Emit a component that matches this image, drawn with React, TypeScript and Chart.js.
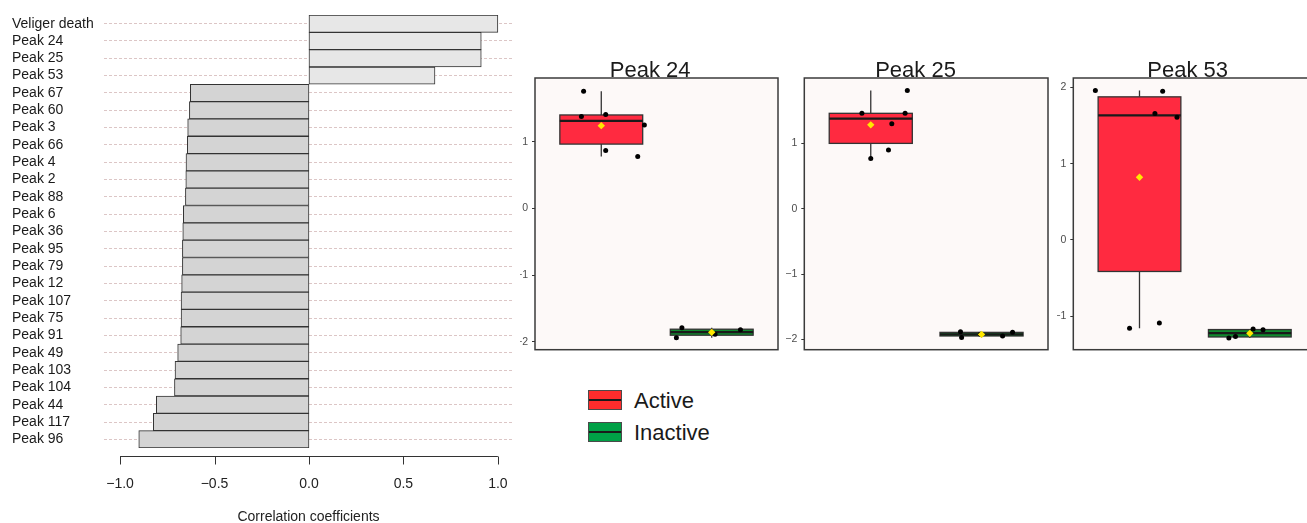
import React, { useEffect, useRef } from 'react';
import { Chart, registerables } from 'chart.js';

Chart.register(...registerables);

const FONT = "'Liberation Sans', Arial, Helvetica, sans-serif";
Chart.defaults.font.family = FONT;

// ---- Correlation with veliger death (top row first) ----
const CORR_LABELS = [
  'Veliger death', 'Peak 24', 'Peak 25', 'Peak 53', 'Peak 67', 'Peak 60', 'Peak 3',
  'Peak 66', 'Peak 4', 'Peak 2', 'Peak 88', 'Peak 6', 'Peak 36', 'Peak 95', 'Peak 79',
  'Peak 12', 'Peak 107', 'Peak 75', 'Peak 91', 'Peak 49', 'Peak 103', 'Peak 104',
  'Peak 44', 'Peak 117', 'Peak 96',
];
const CORR_VALUES = [
  1.0, 0.912, 0.912, 0.667, -0.628, -0.633, -0.642,
  -0.644, -0.651, -0.652, -0.654, -0.665, -0.668, -0.670, -0.670,
  -0.674, -0.677, -0.677, -0.679, -0.695, -0.709, -0.712,
  -0.808, -0.824, -0.901,
];
const CORR_TICKS = [-1, -0.5, 0, 0.5, 1];

// ---- Scaled peak intensity by activity group ----
const GROUPS = ['Active', 'Inactive'];

const PEAK24_ACTIVE = [1.76, 1.38, 1.41, 1.25, 0.87, 0.78];
const PEAK24_ACTIVE_JITTER = [-0.16, -0.18, 0.04, 0.39, 0.04, 0.33];
const PEAK24_INACTIVE = [-1.94, -1.79, -1.89, -1.82];
const PEAK24_INACTIVE_JITTER = [-0.32, -0.27, 0.03, 0.26];
const PEAK24_TICKS = [-2, -1, 0, 1];

const PEAK25_ACTIVE = [1.46, 0.77, 0.9, 1.3, 1.46, 1.81];
const PEAK25_ACTIVE_JITTER = [-0.08, 0.0, 0.16, 0.19, 0.31, 0.33];
const PEAK25_INACTIVE = [-1.88, -1.97, -1.92, -1.945, -1.89];
const PEAK25_INACTIVE_JITTER = [-0.19, -0.18, -0.01, 0.19, 0.28];
const PEAK25_TICKS = [-2, -1, 0, 1];

const PEAK53_ACTIVE = [1.96, 1.95, 1.66, 1.61, -1.16, -1.09];
const PEAK53_ACTIVE_JITTER = [-0.4, 0.21, 0.14, 0.34, -0.09, 0.18];
const PEAK53_INACTIVE = [-1.29, -1.27, -1.17, -1.18];
const PEAK53_INACTIVE_JITTER = [-0.19, -0.13, 0.03, 0.12];
const PEAK53_TICKS = [-1, 0, 1, 2];

const BOX_FILLS = ['#ff2a40', '#0f8a2e'];
const KEY_FILLS = ['#ff2c2c', '#00a046'];

const minusSign = (s: string) => s.replace('-', '\u2212');

function quantile(sorted: number[], p: number) {
  const h = (sorted.length - 1) * p;
  const lo = Math.floor(h);
  const hi = Math.ceil(h);
  return sorted[lo] + (h - lo) * (sorted[hi] - sorted[lo]);
}

function boxStats(values: number[]) {
  const s = [...values].sort((a, b) => a - b);
  const q1 = quantile(s, 0.25);
  const med = quantile(s, 0.5);
  const q3 = quantile(s, 0.75);
  const iqr = q3 - q1;
  const lo = Math.min(...s.filter((v) => v >= q1 - 1.5 * iqr));
  const hi = Math.max(...s.filter((v) => v <= q3 + 1.5 * iqr));
  const mean = s.reduce((a, b) => a + b, 0) / s.length;
  return { q1, med, q3, lo, hi, mean };
}

// Horizontal axis line with tick marks, drawn below the plotting region
const corrAxisPlugin = {
  id: 'corrAxis',
  afterDraw(chart: any) {
    const x = chart.scales.x;
    const ctx = chart.ctx;
    const y0 = chart.chartArea.bottom + 8.5;
    ctx.save();
    ctx.strokeStyle = '#333';
    ctx.lineWidth = 1;
    ctx.beginPath();
    ctx.moveTo(x.getPixelForValue(CORR_TICKS[0]), y0);
    ctx.lineTo(x.getPixelForValue(CORR_TICKS[CORR_TICKS.length - 1]), y0);
    CORR_TICKS.forEach((t) => {
      const px = Math.round(x.getPixelForValue(t)) + 0.5;
      ctx.moveTo(px, y0);
      ctx.lineTo(px, y0 + 8);
    });
    ctx.stroke();
    ctx.restore();
  },
};

function CorrelationChart() {
  const ref = useRef<HTMLCanvasElement | null>(null);
  useEffect(() => {
    if (!ref.current) return;
    const chart = new Chart(ref.current, {
      type: 'bar',
      data: {
        labels: CORR_LABELS,
        datasets: [
          {
            data: CORR_VALUES,
            backgroundColor: CORR_VALUES.map((v) => (v >= 0 ? '#e7e7e7' : '#d4d4d4')),
            borderColor: '#333',
            borderWidth: 1,
            borderSkipped: false,
            barPercentage: 1,
            categoryPercentage: 1,
          },
        ],
      },
      options: {
        indexAxis: 'y',
        responsive: false,
        animation: false,
        devicePixelRatio: 1,
        layout: { padding: { left: 12, top: 15, right: 7, bottom: 0 } },
        plugins: { legend: { display: false }, tooltip: { enabled: false } },
        scales: {
          x: {
            type: 'linear',
            min: -1.085,
            max: 1.08,
            afterBuildTicks: (s: any) => {
              s.ticks = CORR_TICKS.map((v) => ({ value: v }));
            },
            afterFit: (s: any) => {
              s.height = 75;
              s.paddingLeft = 0;
              s.paddingRight = 0;
            },
            grid: { display: false, drawTicks: true, tickLength: 28 },
            border: { display: false },
            ticks: {
              autoSkip: false,
              maxRotation: 0,
              padding: 0,
              color: '#222',
              font: { size: 14 },
              callback: (v: any) => minusSign(Number(v).toFixed(1)),
            },
            title: {
              display: true,
              text: 'Correlation coefficients',
              color: '#222',
              font: { size: 14, lineHeight: 0.85 },
              padding: { top: 0, bottom: 0 },
            },
          },
          y: {
            type: 'category',
            offset: true,
            afterFit: (s: any) => {
              s.width = 92;
            },
            grid: { offset: false, color: '#dcc6c6', lineWidth: 1, drawTicks: false },
            border: { display: false, dash: [3, 2] },
            ticks: {
              autoSkip: false,
              crossAlign: 'far',
              padding: 0,
              color: '#1a1a1a',
              font: { size: 14 },
            },
          },
        },
      },
      plugins: [corrAxisPlugin],
    } as any);
    return () => chart.destroy();
  }, []);
  return (
    <canvas
      ref={ref}
      width={520}
      height={523}
      style={{ position: 'absolute', left: 0, top: 0, width: 520, height: 523 }}
    />
  );
}

type Group = { values: number[]; jitter: number[] };

type PanelProps = {
  title: string;
  groups: Group[];
  yMin: number;
  yMax: number;
  ticks: number[];
  left: number;
  width: number;
  axisWidth: number;
  padRight: number;
};

const PANEL_TOP = 40;
const PANEL_HEIGHT = 320;

function BoxPanel({ title, groups, yMin, yMax, ticks, left, width, axisWidth, padRight }: PanelProps) {
  const ref = useRef<HTMLCanvasElement | null>(null);
  useEffect(() => {
    if (!ref.current) return;
    const stats = groups.map((g) => boxStats(g.values));

    // Panel background, box outlines, whiskers, medians and frame
    const boxPlugin = {
      id: 'boxDecor',
      beforeDatasetsDraw(chart: any) {
        const { left: l, top: t, width: w, height: h } = chart.chartArea;
        const ctx = chart.ctx;
        ctx.save();
        ctx.fillStyle = '#fdf9f8';
        ctx.fillRect(l, t, w, h);
        ctx.restore();
      },
      afterDatasetDraw(chart: any, args: any) {
        if (args.meta.type !== 'bar') return;
        const ys = chart.scales.y;
        const ctx = chart.ctx;
        ctx.save();
        args.meta.data.forEach((el: any, i: number) => {
          const s = stats[i];
          const x0 = el.x - el.width / 2;
          const yTop = ys.getPixelForValue(s.q3);
          const yBot = ys.getPixelForValue(s.q1);
          ctx.strokeStyle = '#333';
          ctx.lineWidth = 1.3;
          ctx.beginPath();
          ctx.moveTo(el.x, ys.getPixelForValue(s.hi));
          ctx.lineTo(el.x, yTop);
          ctx.moveTo(el.x, yBot);
          ctx.lineTo(el.x, ys.getPixelForValue(s.lo));
          ctx.stroke();
          ctx.strokeRect(x0, yTop, el.width, yBot - yTop);
          ctx.strokeStyle = '#1a1a1a';
          ctx.lineWidth = 2.3;
          ctx.beginPath();
          const ym = ys.getPixelForValue(s.med);
          ctx.moveTo(x0, ym);
          ctx.lineTo(x0 + el.width, ym);
          ctx.stroke();
        });
        ctx.restore();
      },
      afterDatasetsDraw(chart: any) {
        const { left: l, top: t, width: w, height: h } = chart.chartArea;
        const ctx = chart.ctx;
        ctx.save();
        ctx.strokeStyle = '#3b3b3b';
        ctx.lineWidth = 1.5;
        ctx.strokeRect(l, t, w, h);
        ctx.restore();
      },
    };

    const chart = new Chart(ref.current, {
      type: 'bar',
      data: {
        datasets: [
          {
            type: 'bar',
            data: stats.map((s, i) => ({ x: i + 1, y: [s.q1, s.q3] })),
            backgroundColor: BOX_FILLS,
            borderWidth: 0,
            borderSkipped: false,
            barPercentage: 0.75,
            categoryPercentage: 1,
            order: 3,
          },
          {
            type: 'scatter',
            data: groups.flatMap((g, i) => g.values.map((v, k) => ({ x: i + 1 + g.jitter[k], y: v }))),
            pointRadius: 2.5,
            backgroundColor: '#000',
            borderWidth: 0,
            order: 2,
          },
          {
            type: 'scatter',
            data: stats.map((s, i) => ({ x: i + 1, y: s.mean })),
            pointStyle: 'rectRot',
            pointRadius: 3.7,
            backgroundColor: '#ffe800',
            borderWidth: 0,
            order: 1,
          },
        ],
      },
      options: {
        responsive: false,
        animation: false,
        devicePixelRatio: 1,
        layout: { padding: { top: 24.1, right: padRight, bottom: 5.5, left: 0 } },
        plugins: {
          legend: { display: false },
          tooltip: { enabled: false },
          title: {
            display: true,
            text: title,
            color: '#1a1a1a',
            font: { size: 22, weight: 'normal', lineHeight: 0.6 },
            padding: { top: 0, bottom: 0.7 },
          },
        },
        scales: {
          x: {
            type: 'linear',
            min: 0.4,
            max: 2.6,
            offset: false,
            display: false,
            afterBuildTicks: (s: any) => {
              s.ticks = GROUPS.map((_, i) => ({ value: i + 1 }));
            },
          },
          y: {
            type: 'linear',
            min: yMin,
            max: yMax,
            afterBuildTicks: (s: any) => {
              s.ticks = ticks.map((v) => ({ value: v }));
            },
            afterFit: (s: any) => {
              s.width = axisWidth;
            },
            grid: { drawOnChartArea: false, drawTicks: true, tickLength: 3, tickColor: '#333', tickWidth: 1 },
            border: { display: false },
            ticks: {
              padding: 4,
              color: '#4d4d4d',
              font: { size: 10.5 },
              callback: (v: any) => minusSign(String(v)),
            },
          },
        },
      },
      plugins: [boxPlugin],
    } as any);
    return () => chart.destroy();
  }, []);
  return (
    <canvas
      ref={ref}
      width={width}
      height={PANEL_HEIGHT}
      style={{ position: 'absolute', left, top: PANEL_TOP, width, height: PANEL_HEIGHT }}
    />
  );
}

function LegendKey({ top, fill }: { top: number; fill: string }) {
  return (
    <div
      style={{
        position: 'absolute',
        left: 588,
        top,
        width: 34,
        height: 20,
        boxSizing: 'border-box',
        border: '1px solid #4a4a4a',
        background: fill,
      }}
    >
      <div style={{ position: 'absolute', left: 0, right: 0, top: 8, height: 2, background: '#1a1a1a' }} />
    </div>
  );
}

function Legend() {
  const labelStyle: React.CSSProperties = {
    position: 'absolute',
    left: 634,
    fontSize: 22,
    lineHeight: '22px',
    color: '#1a1a1a',
    fontFamily: FONT,
    whiteSpace: 'nowrap',
  };
  return (
    <>
      <LegendKey top={390} fill={KEY_FILLS[0]} />
      <div style={{ ...labelStyle, top: 389.5 }}>{GROUPS[0]}</div>
      <LegendKey top={422} fill={KEY_FILLS[1]} />
      <div style={{ ...labelStyle, top: 421.5 }}>{GROUPS[1]}</div>
    </>
  );
}

export default function App() {
  return (
    <div
      style={{
        position: 'fixed',
        left: 0,
        top: 0,
        width: 1307,
        height: 523,
        overflow: 'hidden',
        background: '#ffffff',
      }}
    >
      <CorrelationChart />
      <BoxPanel
        title="Peak 24"
        groups={[
          { values: PEAK24_ACTIVE, jitter: PEAK24_ACTIVE_JITTER },
          { values: PEAK24_INACTIVE, jitter: PEAK24_INACTIVE_JITTER },
        ]}
        yMin={-2.12}
        yMax={1.957}
        ticks={PEAK24_TICKS}
        left={520}
        width={262}
        axisWidth={15}
        padRight={1.7}
      />
      <BoxPanel
        title="Peak 25"
        groups={[
          { values: PEAK25_ACTIVE, jitter: PEAK25_ACTIVE_JITTER },
          { values: PEAK25_INACTIVE, jitter: PEAK25_INACTIVE_JITTER },
        ]}
        yMin={-2.155}
        yMax={2.0}
        ticks={PEAK25_TICKS}
        left={781}
        width={271}
        axisWidth={23.3}
        padRight={2}
      />
      <BoxPanel
        title="Peak 53"
        groups={[
          { values: PEAK53_ACTIVE, jitter: PEAK53_ACTIVE_JITTER },
          { values: PEAK53_INACTIVE, jitter: PEAK53_INACTIVE_JITTER },
        ]}
        yMin={-1.442}
        yMax={2.125}
        ticks={PEAK53_TICKS}
        left={1057}
        width={263}
        axisWidth={16.3}
        padRight={1.8}
      />
      <Legend />
    </div>
  );
}
